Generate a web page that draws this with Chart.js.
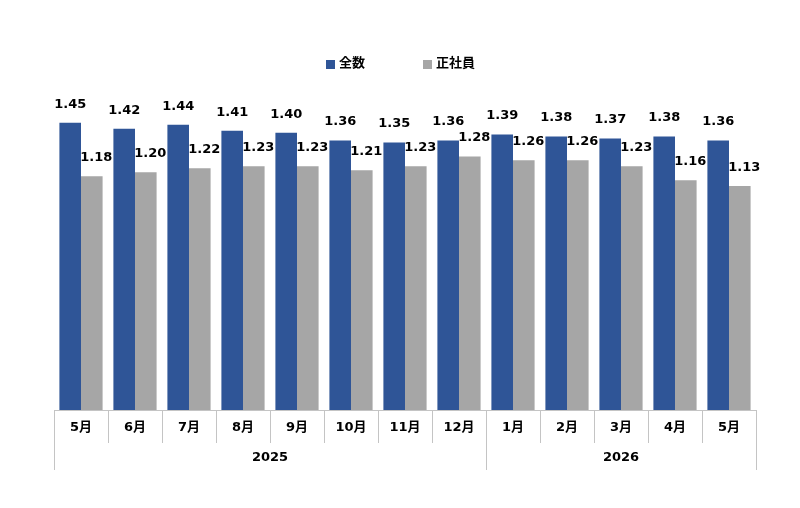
<!DOCTYPE html>
<html>
<head>
<meta charset="utf-8">
<script src="https://cdn.jsdelivr.net/npm/chart.js@4.4.1/dist/chart.umd.min.js"></script>
<style>
html,body{margin:0;padding:0;background:#fff;}
#wrap{width:800px;height:508px;position:relative;}
</style>
</head>
<body>
<div id="wrap"><canvas id="c" width="800" height="508"></canvas></div>
<script>
const months = ["5月","6月","7月","8月","9月","10月","11月","12月","1月","2月","3月","4月","5月"];
const years = ["2025","2026"];
const yearSpans = [8, 5];
const seriesNames = ["全数","正社員"];
const totalValues = [1.45,1.42,1.44,1.41,1.40,1.36,1.35,1.36,1.39,1.38,1.37,1.38,1.36];
const regularValues = [1.18,1.20,1.22,1.23,1.23,1.21,1.23,1.28,1.26,1.26,1.23,1.16,1.13];

const BLUE = "#2f5597";
const GRAY = "#a6a6a6";
const LINE = "#c4c4c4";
const FONT = '"DejaVu Sans", "Noto Sans CJK JP", sans-serif';

const decor = {
  id: "decor",
  afterDraw(chart) {
    const ctx = chart.ctx;
    const xs = chart.scales.x;
    const area = chart.chartArea;
    const n = months.length;
    const step = (xs.getPixelForValue(1) - xs.getPixelForValue(0));
    const base = area.bottom;
    ctx.save();
    // axis line
    ctx.strokeStyle = LINE;
    ctx.lineWidth = 1;
    ctx.beginPath();
    ctx.moveTo(xs.getPixelForValue(0) - step/2, base + 0.5);
    ctx.lineTo(xs.getPixelForValue(n-1) + step/2, base + 0.5);
    ctx.stroke();
    // separators
    const yearBounds = [0];
    let acc = 0;
    yearSpans.forEach(s => { acc += s; yearBounds.push(acc); });
    for (let i = 0; i <= n; i++) {
      const x = Math.round(xs.getPixelForValue(i) - step/2) + 0.5;
      const long = yearBounds.includes(i);
      ctx.beginPath();
      ctx.moveTo(x, base);
      ctx.lineTo(x, long ? base + 60 : base + 33);
      ctx.stroke();
    }
    // month labels
    ctx.fillStyle = "#000";
    ctx.font = "bold 13px " + FONT;
    ctx.textAlign = "center";
    ctx.textBaseline = "middle";
    months.forEach((m, i) => {
      ctx.fillText(m, xs.getPixelForValue(i), base + 18);
    });
    // year labels
    years.forEach((y, k) => {
      const a = xs.getPixelForValue(yearBounds[k]) - step/2;
      const b = xs.getPixelForValue(yearBounds[k+1]) - step/2;
      ctx.fillText(y, (a + b) / 2, base + 48);
    });
    // legend
    const legendItems = [
      {text: seriesNames[0], color: BLUE, x: 326},
      {text: seriesNames[1], color: GRAY, x: 423}
    ];
    ctx.textAlign = "left";
    legendItems.forEach(it => {
      ctx.fillStyle = it.color;
      ctx.fillRect(it.x, 60, 9, 9);
      ctx.fillStyle = "#000";
      ctx.fillText(it.text, it.x + 13, 64);
    });
    ctx.restore();
  },
  afterDatasetsDraw(chart) {
    const ctx = chart.ctx;
    ctx.save();
    ctx.font = "bold 13px " + FONT;
    ctx.fillStyle = "#000";
    ctx.textAlign = "center";
    ctx.textBaseline = "middle";
    chart.data.datasets.forEach((ds, di) => {
      const meta = chart.getDatasetMeta(di);
      meta.data.forEach((bar, i) => {
        const dx = di === 1 ? 4.5 : 0;
        ctx.fillText(ds.data[i].toFixed(2), bar.x + dx, bar.y - 18.5);
      });
    });
    ctx.restore();
  }
};

new Chart(document.getElementById("c"), {
  type: "bar",
  data: {
    labels: months,
    datasets: [
      {label: seriesNames[0], data: totalValues, backgroundColor: BLUE, categoryPercentage: 0.8, barPercentage: 1.0},
      {label: seriesNames[1], data: regularValues, backgroundColor: GRAY, categoryPercentage: 0.8, barPercentage: 1.0}
    ]
  },
  options: {
    responsive: false,
    animation: false,
    devicePixelRatio: 1,
    layout: {padding: {left: 54, right: 44, top: 93, bottom: 98}},
    plugins: {legend: {display: false}, tooltip: {enabled: false}},
    scales: {
      x: {display: false, grid: {display: false}},
      y: {display: false, min: 0, max: 1.6, grid: {display: false}}
    }
  },
  plugins: [decor]
});
</script>
</body>
</html>
